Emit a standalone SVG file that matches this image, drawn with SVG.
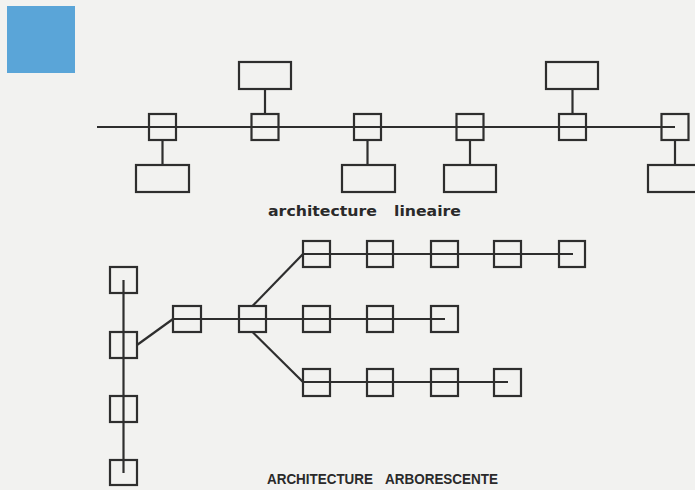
<svg xmlns="http://www.w3.org/2000/svg" width="695" height="490" viewBox="0 0 695 490">
<defs>
<style>
.bg{fill:#f2f2f0}
.n rect{fill:none;stroke:#2e2e2e;stroke-width:2.2}
.c line,.c polyline{fill:none;stroke:#2e2e2e;stroke-width:2.2}
.lbl{fill:#2a2a2a;font-family:"DejaVu Sans",sans-serif;font-weight:bold;font-size:14px}
.lblu{fill:#2a2a2a;font-family:"Liberation Sans",sans-serif;font-weight:bold;font-size:15px}
</style>
</defs>
<rect class="bg" x="0" y="0" width="695" height="490"/>
<rect id="blue" x="7" y="6" width="68" height="67" fill="#5aa5d8"/>

<g id="connectors" class="c">
<line x1="97" y1="127" x2="675" y2="127"/>
<line x1="162.5" y1="140" x2="162.5" y2="165"/>
<line x1="265" y1="89" x2="265" y2="114"/>
<line x1="367.5" y1="140" x2="367.5" y2="165"/>
<line x1="470" y1="140" x2="470" y2="165"/>
<line x1="572.5" y1="89" x2="572.5" y2="114"/>
<line x1="675" y1="140" x2="675" y2="165"/>
<line x1="123.5" y1="280" x2="123.5" y2="473"/>
<line x1="137" y1="345" x2="173" y2="319"/>
<line x1="173" y1="319" x2="445" y2="319"/>
<line x1="252.5" y1="306" x2="303" y2="254"/>
<line x1="252.5" y1="332" x2="303" y2="382"/>
<line x1="303" y1="254" x2="573" y2="254"/>
<line x1="303" y1="382" x2="508" y2="382"/>
</g>

<g id="linear-nodes" class="n">
<g id="l1"><rect x="149" y="114" width="27" height="26"/></g>
<g id="l1b"><rect x="136" y="165" width="53" height="27"/></g>
<g id="l2"><rect x="251.5" y="114" width="27" height="26"/></g>
<g id="l2t"><rect x="239" y="62" width="52" height="27"/></g>
<g id="l3"><rect x="354" y="114" width="27" height="26"/></g>
<g id="l3b"><rect x="342" y="165" width="53" height="27"/></g>
<g id="l4"><rect x="456.5" y="114" width="27" height="26"/></g>
<g id="l4b"><rect x="444" y="165" width="52" height="27"/></g>
<g id="l5"><rect x="559" y="114" width="27" height="26"/></g>
<g id="l5t"><rect x="546" y="62" width="52" height="27"/></g>
<g id="l6"><rect x="661.5" y="114" width="27" height="26"/></g>
<g id="l6b"><rect x="648" y="165" width="53" height="27"/></g>
</g>

<g id="tree-nodes" class="n">
<g id="v1"><rect x="110" y="267" width="27" height="26"/></g>
<g id="v2"><rect x="110" y="332" width="27" height="26"/></g>
<g id="v3"><rect x="110" y="396" width="27" height="26"/></g>
<g id="v4"><rect x="110" y="460" width="27" height="25"/></g>
<g id="m1"><rect x="173" y="306" width="28" height="26"/></g>
<g id="hub"><rect x="239" y="306" width="27" height="26"/></g>
<g id="t1"><rect x="303" y="241" width="27" height="26"/></g>
<g id="t2"><rect x="367" y="241" width="26" height="26"/></g>
<g id="t3"><rect x="431" y="241" width="27" height="26"/></g>
<g id="t4"><rect x="494" y="241" width="27" height="26"/></g>
<g id="t5"><rect x="559" y="241" width="26" height="26"/></g>
<g id="m2"><rect x="303" y="306" width="27" height="26"/></g>
<g id="m3"><rect x="367" y="306" width="26" height="26"/></g>
<g id="m4"><rect x="431" y="306" width="27" height="26"/></g>
<g id="b1"><rect x="303" y="369" width="27" height="27"/></g>
<g id="b2"><rect x="367" y="369" width="26" height="27"/></g>
<g id="b3"><rect x="431" y="369" width="27" height="27"/></g>
<g id="b4"><rect x="494" y="369" width="27" height="27"/></g>
</g>

<text class="lbl" y="216"><tspan x="268" textLength="109" lengthAdjust="spacingAndGlyphs">architecture</tspan><tspan x="394" textLength="67" lengthAdjust="spacingAndGlyphs">lineaire</tspan></text>
<text class="lblu" y="484"><tspan x="267" textLength="106" lengthAdjust="spacingAndGlyphs">ARCHITECTURE</tspan><tspan x="385" textLength="113" lengthAdjust="spacingAndGlyphs">ARBORESCENTE</tspan></text>
</svg>
